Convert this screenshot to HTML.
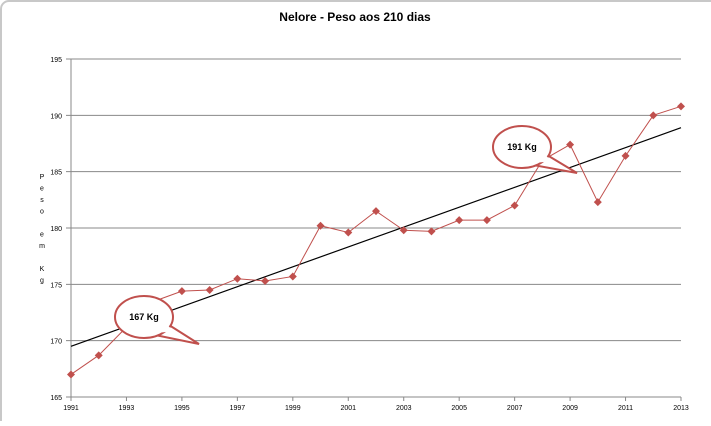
<!DOCTYPE html>
<html><head><meta charset="utf-8"><style>
body{margin:0;background:#fff;font-family:"Liberation Sans",sans-serif}
svg text{font-family:"Liberation Sans",sans-serif}
</style></head><body>
<svg width="711" height="421">
<rect x="1" y="1" width="730" height="430" rx="8" fill="#fff" stroke="#c8c8c8" stroke-width="2"/>
<text x="355" y="21" text-anchor="middle" font-size="12" font-weight="bold" fill="#000">Nelore - Peso aos 210 dias</text>
<g id="grid"></g><g id="axes"></g><g id="series"></g>
<g id="callouts"></g>
</svg>
<script>
const years=[1991,1992,1993,1994,1995,1996,1997,1998,1999,2000,2001,2002,2003,2004,2005,2006,2007,2008,2009,2010,2011,2012,2013];
const peso=[167.0,168.7,171.2,173.5,174.4,174.5,175.5,175.3,175.7,180.2,179.6,181.5,179.8,179.7,180.7,180.7,182.0,186.0,187.4,182.3,186.4,190.0,190.8];
const yTicks=[165,170,175,180,185,190,195];
const xTicks=[1991,1993,1995,1997,1999,2001,2003,2005,2007,2009,2011,2013];
const trend=[169.5,188.9];
const hiddenMarkers=[1993,1994,2008];
const NS='http://www.w3.org/2000/svg';
const X=v=>71+(v-1991)*(610/22), Y=v=>397-(v-165)*(338/30);
function mk(t,a,p){const e=document.createElementNS(NS,t);for(const k in a)e.setAttribute(k,a[k]);p.appendChild(e);return e;}
const g=document.getElementById('grid'),ax=document.getElementById('axes'),s=document.getElementById('series'),c=document.getElementById('callouts');
yTicks.forEach(v=>{const l=mk('line',{x1:66,x2:681,y1:Y(v),y2:Y(v),stroke:'#888','stroke-width':1},g);


const t=mk('text',{x:62,y:Y(v)+3,'text-anchor':'end','font-size':7,fill:'#000'},ax);t.textContent=v;

});
mk('line',{x1:71,x2:71,y1:Y(195),y2:Y(165),stroke:'#888'},ax);
xTicks.forEach(v=>{mk('line',{x1:X(v),x2:X(v),y1:397,y2:401,stroke:'#888'},ax);
const t=mk('text',{x:X(v),y:410,'text-anchor':'middle','font-size':7,fill:'#000'},ax);t.textContent=v;

});
['P','e','s','o','','e','m','','K','g'].forEach((ch,i)=>{if(!ch)return;const t=mk('text',{x:42,y:179+i*11.5,'text-anchor':'middle','font-size':7,fill:'#000'},ax);t.textContent=ch;

});
const tl=mk('line',{x1:X(years[0]),y1:Y(trend[0]),x2:X(years[years.length-1]),y2:Y(trend[1]),stroke:'#000','stroke-width':1.2},s);


const pl=mk('polyline',{points:years.map((y,i)=>X(y)+','+Y(peso[i])).join(' '),fill:'none',stroke:'#c0504d','stroke-width':1},s);


years.forEach((y,i)=>{if(hiddenMarkers.includes(y))return;const x=X(y),yy=Y(peso[i]);
const m=mk('polygon',{points:`${x},${yy-4} ${x+4},${yy} ${x},${yy+4} ${x-4},${yy}`,fill:'#c0504d'},s);

});
function callout(cx,cy,tx,ty,label,name){const gg=mk('g',{},c);


mk('polygon',{points:`${cx+25},${cy+8} ${tx},${ty} ${cx+11},${cy+18}`,fill:'#fff',stroke:'#c0504d','stroke-width':2,'stroke-linejoin':'miter'},gg);
mk('ellipse',{cx:cx,cy:cy,rx:29,ry:21,fill:'#fff',stroke:'#c0504d','stroke-width':2},gg);
mk('polygon',{points:`${cx+23},${cy+8} ${cx+30},${cy+14} ${cx+13},${cy+16}`,fill:'#fff'},gg);
const t=mk('text',{x:cx,y:cy+3,'text-anchor':'middle','font-size':9,'font-weight':'bold',fill:'#000'},gg);t.textContent=label;}
callout(144,317,199,344,'167 Kg','callout-167');
callout(522,147,577,173,'191 Kg','callout-191');
</script>
</body></html>
